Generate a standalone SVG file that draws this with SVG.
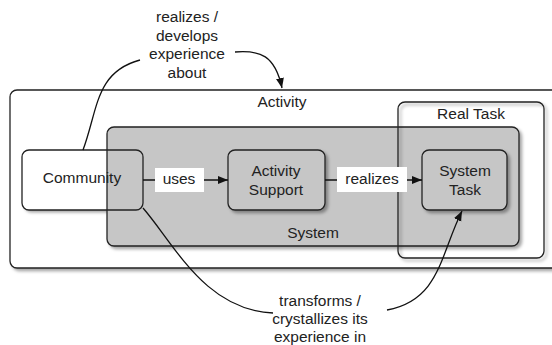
<svg xmlns="http://www.w3.org/2000/svg" width="552" height="345" viewBox="0 0 552 345">
<style>
text{font-family:"Liberation Sans",Arial,sans-serif;font-size:15.5px;fill:#222;text-anchor:middle;dominant-baseline:central}
.box{stroke:#222;stroke-width:1.3}
.conn{fill:none;stroke:#111;stroke-width:1.3}
</style>
<defs>
<filter id="sh" x="-10%" y="-10%" width="130%" height="140%">
<feDropShadow dx="2.5" dy="2.5" stdDeviation="1.5" flood-color="#000" flood-opacity="0.35"/>
</filter>
<marker id="ah" viewBox="0 0 10 10" refX="10" refY="5" markerWidth="10" markerHeight="10" markerUnits="userSpaceOnUse" orient="auto">
<path d="M0,1 L10,5 L0,9 Z" fill="#111"/>
</marker>
</defs>
<g id="activity">
<rect class="box" x="10" y="90" width="560" height="178" rx="7" fill="#fff" filter="url(#sh)"/>
<text x="282" y="101">Activity</text>
</g>
<g id="community-bg">
<rect x="22" y="150" width="121" height="60" rx="7" fill="#fff" filter="url(#sh)"/>
</g>
<g id="system">
<rect class="box" x="107" y="127" width="412" height="119" rx="7" fill="#c6c6c6" filter="url(#sh)"/>
<text x="313" y="232">System</text>
</g>
<g id="real-task">
<rect class="box" x="398" y="102" width="146" height="156" rx="7" fill="none" filter="url(#sh)"/>
<text x="471" y="113">Real Task</text>
</g>
<g id="community">
<rect class="box" x="22" y="150" width="121" height="60" rx="7" fill="none"/>
<text x="82" y="177">Community</text>
</g>
<g id="activity-support">
<rect class="box" x="228" y="150" width="97" height="60" rx="7" fill="#c6c6c6" filter="url(#sh)"/>
<text x="276" y="170">Activity</text>
<text x="276" y="189">Support</text>
</g>
<g id="system-task">
<rect class="box" x="422" y="150" width="85" height="60" rx="7" fill="#c6c6c6" filter="url(#sh)"/>
<text x="465" y="170">System</text>
<text x="465" y="189">Task</text>
</g>
<g id="connectors">
<path class="conn" d="M143,180 L228,180" marker-end="url(#ah)"/>
<rect x="155" y="168" width="49" height="24" fill="#fff"/>
<text x="179" y="178">uses</text>
<path class="conn" d="M325,180 L422,180" marker-end="url(#ah)"/>
<rect x="337" y="167" width="70" height="25" fill="#fff"/>
<text x="372" y="178">realizes</text>
<path class="conn" d="M83,150 C98,110 95,72 140,60"/>
<path class="conn" d="M235,52 C260,50 275,55 282,88" marker-end="url(#ah)"/>
<text x="187" y="16">realizes /</text>
<text x="187" y="35">develops</text>
<text x="187" y="53">experience</text>
<text x="187" y="72">about</text>
<path class="conn" d="M143,208 C175,245 205,310 273,313"/>
<path class="conn" d="M387,310 C440,300 440,255 462,211" marker-end="url(#ah)"/>
<text x="320" y="300">transforms /</text>
<text x="320" y="318">crystallizes its</text>
<text x="320" y="336">experience in</text>
</g>
</svg>
